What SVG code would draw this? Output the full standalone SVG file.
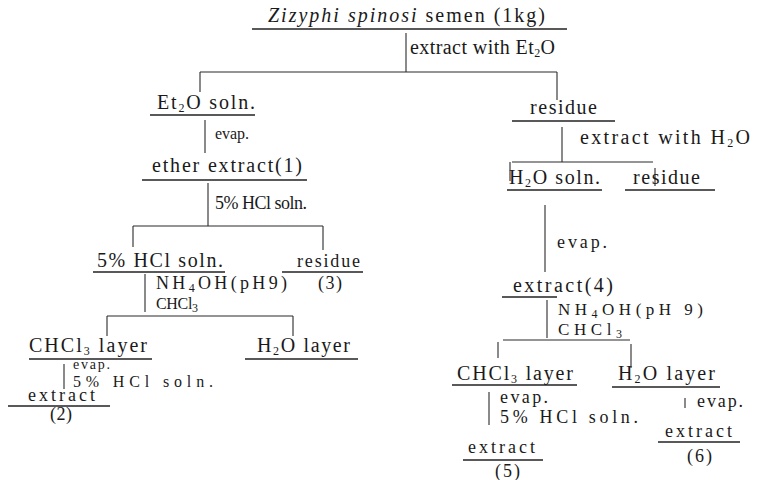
<svg xmlns="http://www.w3.org/2000/svg" width="757" height="480" viewBox="0 0 757 480">
<style>
text{font-family:"Liberation Serif","DejaVu Serif",serif;font-size:20px;fill:#1a1a1a}
.m{font-size:18px}
.n{font-size:17px}
.s{font-size:16px}
.xs{font-size:14px}
.sub{font-size:12px}
line{stroke:#2a2a2a;stroke-width:1.1}
.u{stroke:#222;stroke-width:1.3}
</style>
<rect width="757" height="480" fill="#fff"/>
<g id="connectors">
<line x1="406" y1="33" x2="406" y2="72"/>
<line x1="200" y1="72" x2="557" y2="72"/>
<line x1="200" y1="72" x2="200" y2="92"/>
<line x1="557" y1="72" x2="557" y2="100"/>
<line x1="205" y1="120" x2="205" y2="153"/>
<line x1="208" y1="183" x2="208" y2="226"/>
<line x1="133" y1="226" x2="323" y2="226"/>
<line x1="133" y1="226" x2="133" y2="247"/>
<line x1="323" y1="226" x2="323" y2="250"/>
<line x1="145" y1="274" x2="145" y2="312"/>
<line x1="107" y1="316" x2="293" y2="316"/>
<line x1="107" y1="316" x2="107" y2="336"/>
<line x1="293" y1="316" x2="293" y2="336"/>
<line x1="64" y1="364" x2="64" y2="389"/>
<line x1="562" y1="127" x2="562" y2="162"/>
<line x1="512" y1="162" x2="653" y2="162"/>
<line x1="510" y1="162" x2="510" y2="181"/>
<line x1="655" y1="168" x2="655" y2="186"/>
<line x1="545" y1="205" x2="545" y2="272"/>
<line x1="547" y1="300" x2="547" y2="338"/>
<line x1="503" y1="340" x2="630" y2="340"/>
<line x1="498" y1="342" x2="498" y2="358"/>
<line x1="631" y1="344" x2="631" y2="368"/>
<line x1="489" y1="392" x2="489" y2="425"/>
<line x1="685" y1="398" x2="685" y2="408"/>
</g>
<g id="labels">
<text x="410" y="54" textLength="145" lengthAdjust="spacing">extract with Et<tspan class="sub" dy="3">2</tspan><tspan dy="-3">O</tspan></text>
<text class="s" x="215" y="139" textLength="34" lengthAdjust="spacing">evap.</text>
<text class="m" x="215" y="209" textLength="92" lengthAdjust="spacing">5% HCl soln.</text>
<text class="m" x="156" y="289" textLength="131" lengthAdjust="spacing">NH<tspan class="sub" dy="3">4</tspan><tspan dy="-3">OH(pH9)</tspan></text>
<text class="s" x="156" y="309" textLength="42" lengthAdjust="spacing">CHCl<tspan class="sub" dy="3">3</tspan></text>
<text class="xs" x="73" y="369" textLength="37" lengthAdjust="spacing">evap.</text>
<text class="s" x="73" y="387" textLength="140" lengthAdjust="spacing">5% HCl soln.</text>
<text x="580" y="144" textLength="170" lengthAdjust="spacing">extract with H<tspan class="sub" dy="3">2</tspan><tspan dy="-3">O</tspan></text>
<text class="m" x="557" y="248" textLength="50" lengthAdjust="spacing">evap.</text>
<text class="n" x="558" y="315" textLength="145" lengthAdjust="spacing">NH<tspan class="sub" dy="3">4</tspan><tspan dy="-3">OH(pH 9)</tspan></text>
<text class="n" x="558" y="335" textLength="64" lengthAdjust="spacing">CHCl<tspan class="sub" dy="3">3</tspan></text>
<text class="m" x="500" y="403" textLength="48" lengthAdjust="spacing">evap.</text>
<text class="m" x="500" y="423" textLength="138" lengthAdjust="spacing">5% HCl soln.</text>
<text class="m" x="697" y="407" textLength="46" lengthAdjust="spacing">evap.</text>
</g>
<g id="n-start">
<text x="268" y="22" textLength="277" lengthAdjust="spacing"><tspan font-style="italic">Zizyphi spinosi</tspan> semen (1kg)</text>
<line class="u" x1="252" y1="29" x2="567" y2="29"/>
</g>
<g id="n-et2o-soln">
<text x="157" y="109" textLength="98" lengthAdjust="spacing">Et<tspan class="sub" dy="3">2</tspan><tspan dy="-3">O soln.</tspan></text>
<line class="u" x1="150" y1="115" x2="255" y2="115"/>
</g>
<g id="n-ether-extract">
<text x="152" y="172" textLength="150" lengthAdjust="spacing">ether extract(1)</text>
<line class="u" x1="142" y1="180" x2="307" y2="180"/>
</g>
<g id="n-hcl-soln">
<text x="97" y="267" textLength="126" lengthAdjust="spacing">5% HCl soln.</text>
<line class="u" x1="93" y1="272" x2="225" y2="272"/>
</g>
<g id="n-residue3">
<text class="m" x="297" y="267" textLength="63" lengthAdjust="spacing">residue</text>
<line class="u" x1="282" y1="272" x2="363" y2="272"/>
<text class="m" x="318" y="289" textLength="24" lengthAdjust="spacing">(3)</text>
</g>
<g id="n-chcl3-layer-l">
<text x="29" y="352" textLength="118" lengthAdjust="spacing">CHCl<tspan class="sub" dy="3">3</tspan><tspan dy="-3"> layer</tspan></text>
<line class="u" x1="29" y1="359" x2="152" y2="359"/>
</g>
<g id="n-h2o-layer-l">
<text x="257" y="352" textLength="93" lengthAdjust="spacing">H<tspan class="sub" dy="3">2</tspan><tspan dy="-3">O layer</tspan></text>
<line class="u" x1="245" y1="359" x2="358" y2="359"/>
</g>
<g id="n-extract2">
<text class="m" x="28" y="401" textLength="67" lengthAdjust="spacing">extract</text>
<line class="u" x1="8" y1="406" x2="110" y2="406"/>
<text class="m" x="50" y="420" textLength="22" lengthAdjust="spacing">(2)</text>
</g>
<g id="n-residue-r">
<text x="530" y="114" textLength="67" lengthAdjust="spacing">residue</text>
<line class="u" x1="512" y1="121" x2="615" y2="121"/>
</g>
<g id="n-h2o-soln">
<text x="509" y="184" textLength="91" lengthAdjust="spacing">H<tspan class="sub" dy="3">2</tspan><tspan dy="-3">O soln.</tspan></text>
<line class="u" x1="507" y1="190" x2="602" y2="190"/>
</g>
<g id="n-residue-r2">
<text x="633" y="184" textLength="67" lengthAdjust="spacing">residue</text>
<line class="u" x1="625" y1="190" x2="715" y2="190"/>
</g>
<g id="n-extract4">
<text x="513" y="292" textLength="100" lengthAdjust="spacing">extract(4)</text>
<line class="u" x1="502" y1="297" x2="557" y2="297"/>
</g>
<g id="n-chcl3-layer-r">
<text x="457" y="380" textLength="116" lengthAdjust="spacing">CHCl<tspan class="sub" dy="3">3</tspan><tspan dy="-3"> layer</tspan></text>
<line class="u" x1="452" y1="385" x2="577" y2="385"/>
</g>
<g id="n-h2o-layer-r">
<text x="618" y="380" textLength="97" lengthAdjust="spacing">H<tspan class="sub" dy="3">2</tspan><tspan dy="-3">O layer</tspan></text>
<line class="u" x1="612" y1="387" x2="720" y2="387"/>
</g>
<g id="n-extract5">
<text class="m" x="468" y="453" textLength="67" lengthAdjust="spacing">extract</text>
<line class="u" x1="463" y1="460" x2="543" y2="460"/>
<text class="m" x="495" y="477" textLength="25" lengthAdjust="spacing">(5)</text>
</g>
<g id="n-extract6">
<text class="m" x="665" y="437" textLength="67" lengthAdjust="spacing">extract</text>
<line class="u" x1="658" y1="442" x2="740" y2="442"/>
<text class="m" x="687" y="462" textLength="25" lengthAdjust="spacing">(6)</text>
</g>
</svg>
